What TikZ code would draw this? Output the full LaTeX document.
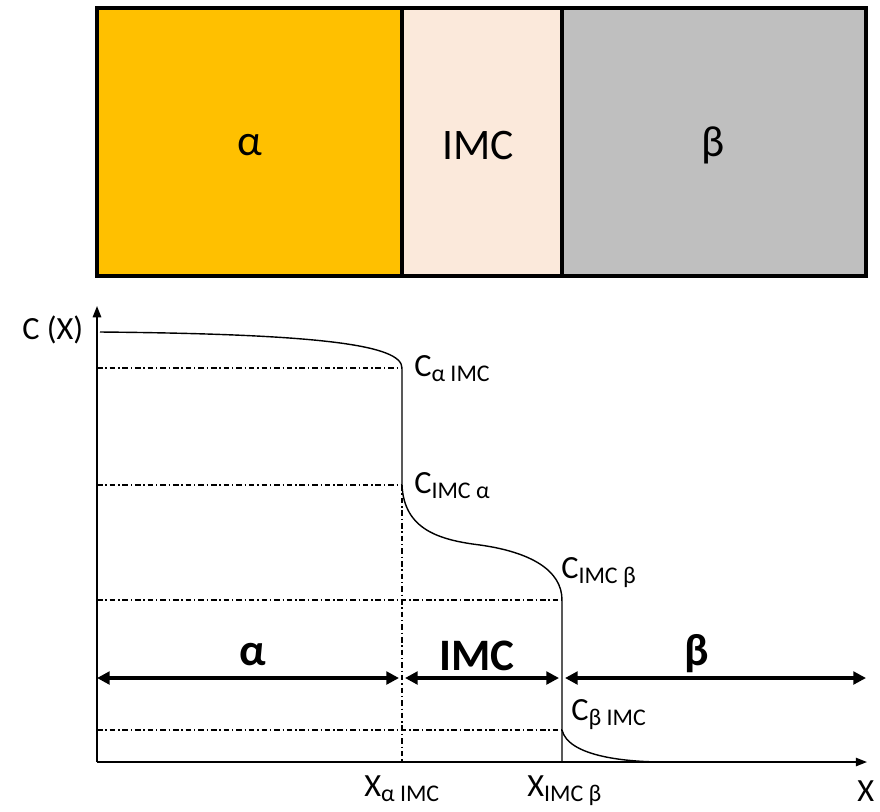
\documentclass[tikz,border=0pt]{standalone}
\usepackage{fontspec}
\setmainfont{Carlito}
\usetikzlibrary{arrows.meta}
\definecolor{alphacol}{HTML}{FFC000}
\definecolor{imccol}{HTML}{FBE9DB}
\definecolor{betacol}{HTML}{BFBFBF}
\newcommand\lowsub[1]{\raisebox{-4pt}{\fontsize{17}{18}\selectfont #1}}
\begin{document}
\begin{tikzpicture}[x=0.025cm,y=-0.025cm,
  phasebox/.style={draw=black,line width=2.6pt},
  phaselabel/.style={font=\fontsize{31}{32}\selectfont},
  axis/.style={line width=1.1pt,-{Triangle[length=8pt,width=6pt]}},
  curve/.style={line width=1pt},
  dd/.style={line width=0.75pt,dash pattern=on 4pt off 2pt on 1pt off 2pt},
  dim/.style={line width=2.4pt,{Triangle[length=9pt,width=9pt]}-{Triangle[length=9pt,width=9pt]}},
  boldlabel/.style={font=\bfseries\fontsize{32}{33}\selectfont},
  clabel/.style={anchor=base west,inner sep=0pt,font=\fontsize{23}{24}\selectfont}]
\useasboundingbox (0,0) rectangle (880,811);
% phase boxes
\draw[phasebox,fill=alphacol] (97,8) rectangle (402,276);
\draw[phasebox,fill=imccol] (402,8) rectangle (562,276);
\draw[phasebox,fill=betacol] (562,8) rectangle (866,276);
\node[phaselabel] (ta) at (250,145) {α};
\node[phaselabel] (ti) at (478,145) {IMC};
\node[phaselabel] (tb) at (713,145) {β};
% axes
\coordinate (O) at (97,762);
\coordinate (ytop) at (97,306);
\coordinate (xend) at (867,762);
\draw[axis] (O) -- (ytop);
\draw[axis] (O) -- (xend);
% reference lines
\coordinate (cai) at (402,368);
\coordinate (cia) at (402,485);
\coordinate (cib) at (562,600);
\coordinate (cbi) at (562,730);
\draw[dd] (97,368) -- (cai);
\draw[dd] (97,485) -- (cia);
\draw[dd] (97,600) -- (cib);
\draw[dd] (97,730) -- (cbi);
\draw[dd] (cia) -- (402,762);
% concentration profile
\draw[curve] (100,332) .. controls (320,334) and (402,345) .. (cai) -- (cia)
  .. controls (404,530) and (440,540) .. (480,545)
  .. controls (530,552) and (562,570) .. (cib) -- (562,762);
\draw[curve] (cbi) .. controls (568,755) and (620,762) .. (665,762);
% phase extent arrows
\coordinate (a1) at (97,678);
\coordinate (a2) at (399,678);
\coordinate (i1) at (405,678);
\coordinate (i2) at (559,678);
\coordinate (b1) at (565,678);
\coordinate (b2) at (866,678);
\draw[dim] (a1) -- (a2);
\draw[dim] (i1) -- (i2);
\draw[dim] (b1) -- (b2);
\node[boldlabel] (la) at (253,655) {α};
\node[boldlabel] (li) at (477,656) {IMC};
\node[boldlabel] (lb) at (697,654) {β};
% labels
\node[clabel] (cx) at (22,339) {C (X)};
\node[clabel] (lcai) at (414,376) {C\lowsub{α IMC}};
\node[clabel] (lcia) at (414,493) {C\lowsub{IMC α}};
\node[clabel] (lcib) at (561,578) {C\lowsub{IMC β}};
\node[clabel] (lcbi) at (571,720) {C\lowsub{β IMC}};
\node[clabel] (lxa) at (364,796) {X\lowsub{α IMC}};
\node[clabel] (lxb) at (527,796) {X\lowsub{IMC β}};
\node[clabel] (lx) at (857,801) {X};
\end{tikzpicture}
\end{document}
